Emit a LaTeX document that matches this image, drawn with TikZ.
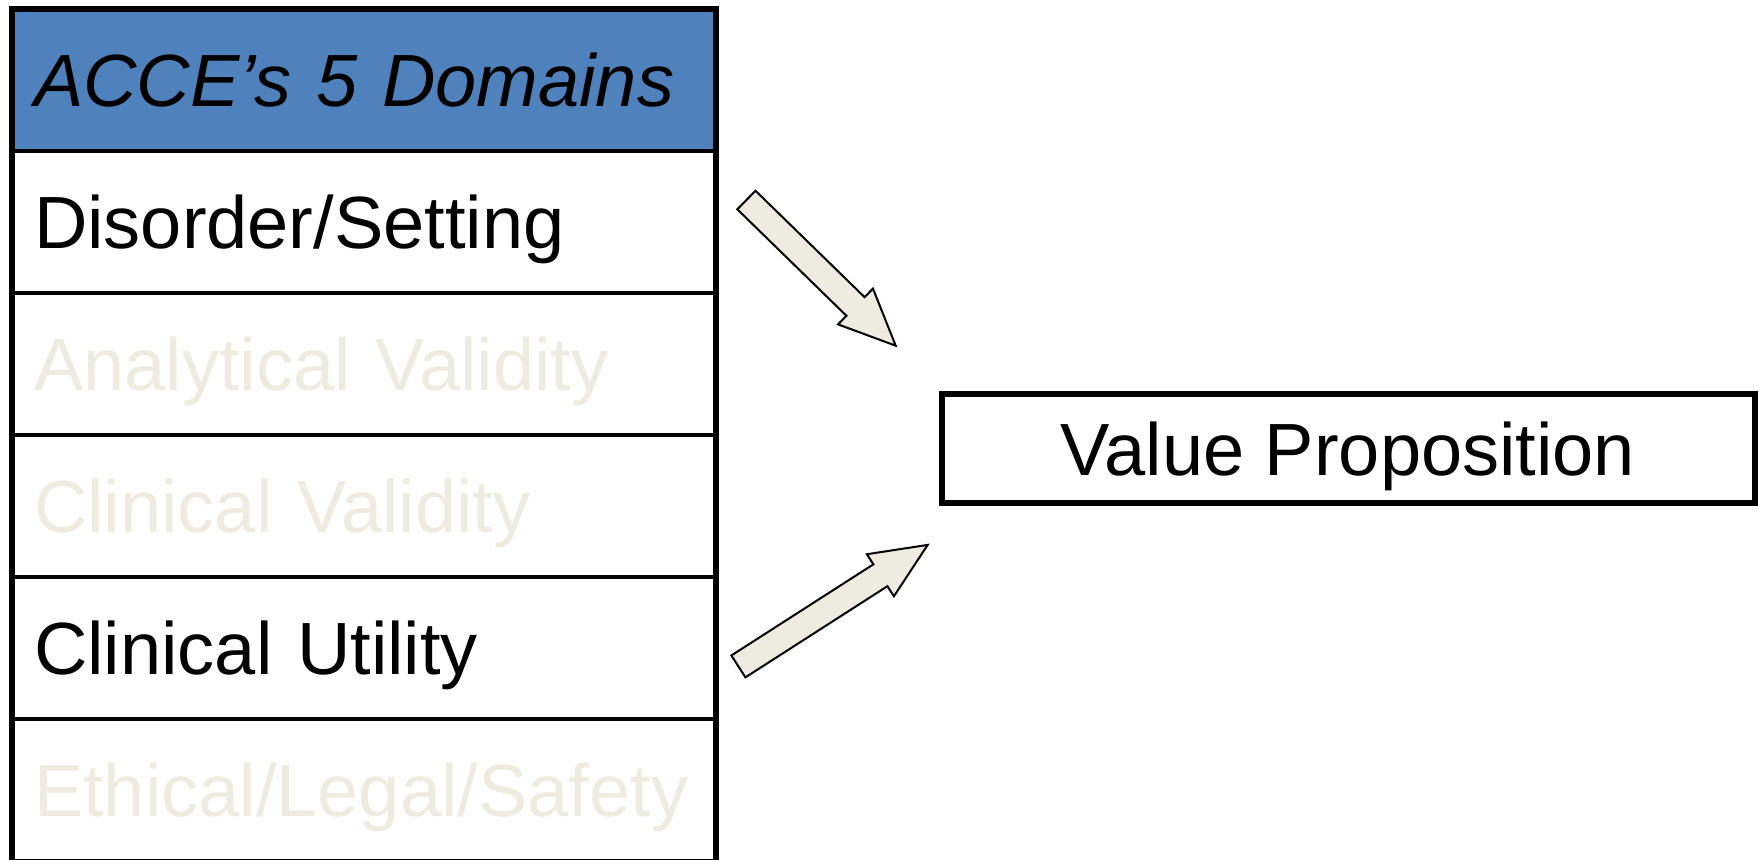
\documentclass[tikz,border=0pt]{standalone}
\usepackage{fontspec}
\setmainfont{Liberation Sans}
\usetikzlibrary{positioning,shapes.arrows}

\definecolor{hdrblue}{HTML}{4F81BD}
\definecolor{fadegray}{HTML}{EEECE1}

\tikzset{
  bigfont/.style={font=\fontsize{37}{44}\selectfont},
  domainrow/.style={draw, line width=2pt, outer sep=0pt, inner xsep=11pt, inner ysep=0pt,
    minimum height=71pt, text width=330pt, align=left,
    text height=26.5pt, text depth=0pt, bigfont},
  fadedrow/.style={domainrow, text=fadegray},
  valuebox/.style={draw, line width=3pt, outer sep=0pt, minimum width=406.5pt,
    minimum height=54.5pt, text height=26.5pt, text depth=0pt, bigfont},
  blockarrow/.style={single arrow, draw, line width=1pt, fill=fadegray, outer sep=0pt,
    inner xsep=0pt, inner ysep=6pt, single arrow tip angle=48,
    single arrow head extend=6pt, minimum width=24.15pt}
}

\begin{document}
\begin{tikzpicture}[x=0.5pt, y=0.5pt, node distance=0pt]
  \useasboundingbox (0,0) rectangle (1760,-859);

  % the five domains
  \node[domainrow, fill=hdrblue, font=\fontsize{37}{44}\selectfont\itshape,
        anchor=north west] (hdr) at (12,-9) {ACCE's 5 Domains};
  \node[domainrow, below=of hdr] (disorder) {Disorder/Setting};
  \node[fadedrow, below=of disorder] (analytic) {Analytical Validity};
  \node[fadedrow, below=of analytic] (clinval) {Clinical Validity};
  \node[domainrow, below=of clinval] (utility) {Clinical Utility};
  \node[fadedrow, below=of utility] (ethic) {Ethical/Legal/Safety};
  \draw[line width=3pt] ([yshift=-20pt]ethic.south west) |- (hdr.north)
    -| ([yshift=-20pt]ethic.south east);

  \node[valuebox] (value) at (1348,-448.5) {Value Proposition};

  % block arrows
  \node[blockarrow, minimum height=104.3pt, rotate=-44.3, anchor=tail]
    (arrowA) at (746.4,-200) {};
  \node[blockarrow, minimum height=112.45pt, rotate=32.7, anchor=tail]
    (arrowB) at (738.4,-666.4) {};
\end{tikzpicture}
\end{document}
